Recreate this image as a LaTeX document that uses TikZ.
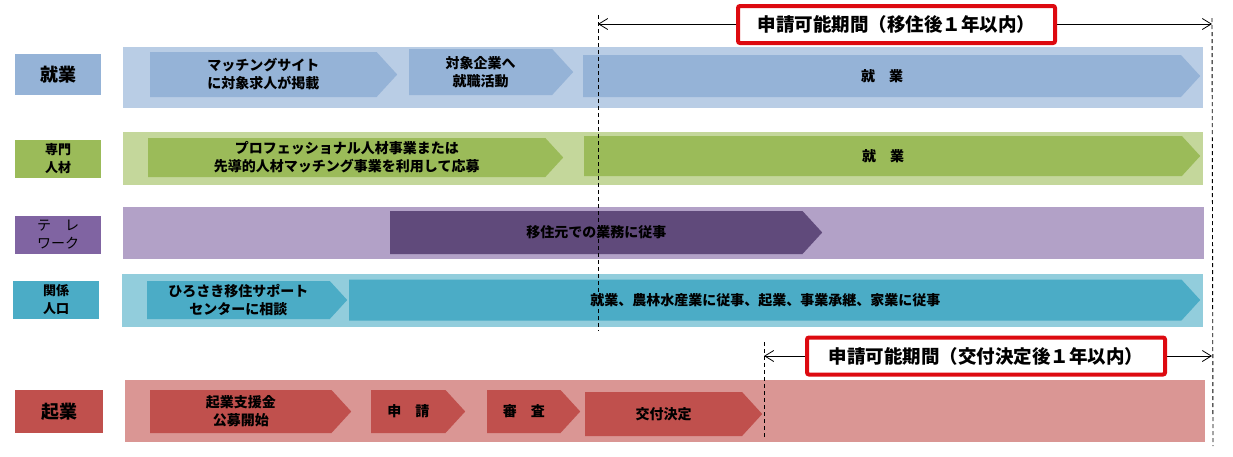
\documentclass[tikz,border=0pt]{standalone}
\usepackage{fontspec}
\setmainfont{Noto Sans CJK JP}
\usepackage{tikz}
\usetikzlibrary{arrows.meta, positioning, shapes.symbols}

\definecolor{jobDark}{HTML}{95B3D7}
\definecolor{jobLight}{HTML}{B9CDE5}
\definecolor{proDark}{HTML}{9BBB59}
\definecolor{proLight}{HTML}{C4D79B}
\definecolor{teleLbl}{HTML}{8064A2}
\definecolor{teleLight}{HTML}{B2A1C7}
\definecolor{teleDark}{HTML}{604A7B}
\definecolor{relDark}{HTML}{4BACC6}
\definecolor{relLight}{HTML}{92CDDC}
\definecolor{bizDark}{HTML}{C0504D}
\definecolor{bizLight}{HTML}{DA9694}
\definecolor{boxRed}{HTML}{DD0A10}

\begin{document}
\begin{tikzpicture}[
    x=1pt, y=-1pt,
    band/.style={rectangle, inner sep=0pt, anchor=north west},
    lbl/.style={rectangle, inner sep=0pt, align=center, font=\bfseries\fontsize{13}{18}\selectfont},
    biglbl/.style={lbl, font=\bfseries\fontsize{18}{20}\selectfont},
    chev/.style={signal, signal to=east, signal pointer angle=95, inner sep=0pt,
                 anchor=west, align=center, font=\bfseries\fontsize{14}{18}\selectfont},
    dashline/.style={line width=0.9pt, dash pattern=on 4pt off 3pt},
    period/.style={line width=0.8pt, {Straight Barb[length=9pt, width=11pt]}-{Straight Barb[length=9pt, width=11pt]}},
    redbox/.style={draw=boxRed, line width=4pt, fill=white, rounded corners=2pt,
                   inner sep=0pt, font=\bfseries\fontsize{18.5}{20}\selectfont},
]
    \useasboundingbox (0,0) rectangle (1233,456);

    % Bands
    \node[band, fill=jobLight, minimum width=1080pt, minimum height=61pt] (jobBand) at (123,47) {};
    \node[band, fill=proLight, minimum width=1080pt, minimum height=53pt] (proBand) at (123,132) {};
    \node[band, fill=teleLight, minimum width=1081pt, minimum height=52pt] (teleBand) at (123,207) {};
    \node[band, fill=relLight, minimum width=1081pt, minimum height=53pt] (relBand) at (122,274) {};
    \node[band, fill=bizLight, minimum width=1080pt, minimum height=62pt] (bizBand) at (125,380) {};

    % Row labels
    \node[biglbl, fill=jobDark, minimum width=86pt, minimum height=41pt] (jobLbl) at (58,74.5) {就業};
    \node[lbl, fill=proDark, minimum width=86pt, minimum height=38pt] (proLbl) at (58,159) {専門\\人材};
    \node[lbl, fill=teleLbl, minimum width=86pt, minimum height=38pt, font=\fontsize{14}{18}\selectfont] (teleLbl) at (58,235) {テ　レ\\ワーク};
    \node[lbl, fill=relDark, minimum width=86pt, minimum height=38pt] (relLbl) at (56,300) {関係\\人口};
    \node[biglbl, fill=bizDark, minimum width=88pt, minimum height=43pt] (bizLbl) at (59,411.5) {起業};

    % Steps
    \node[chev, fill=jobDark, minimum width=247pt, minimum height=45pt] (jobSite) at (150,74.5) {マッチングサイト\\に対象求人が掲載};
    \node[chev, fill=jobDark, minimum width=164pt, minimum height=46pt] (jobHunt) at (409,72) {対象企業へ\\就職活動};
    \node[chev, fill=jobDark, minimum width=617pt, minimum height=42pt] (jobWork) at (583,76) {就　業};

    \node[chev, fill=proDark, minimum width=415pt, minimum height=39pt] (proApply) at (148,157.5) {プロフェッショナル人材事業または\\先導的人材マッチング事業を利用して応募};
    \node[chev, fill=proDark, minimum width=616pt, minimum height=40pt] (proWork) at (584,156) {就　業};

    \node[chev, fill=teleDark, minimum width=432pt, minimum height=43pt] (teleWork) at (390,232.5) {移住元での業務に従事};

    \node[chev, fill=relDark, minimum width=200pt, minimum height=38pt] (relTalk) at (147,300) {ひろさき移住サポート\\センターに相談};
    \node[chev, fill=relDark, minimum width=851pt, minimum height=41pt] (relWork) at (349,300) {就業、農林水産業に従事、起業、事業承継、家業に従事};

    \node[chev, fill=bizDark, minimum width=201pt, minimum height=43pt] (bizCall) at (150,411.5) {起業支援金\\公募開始};
    \node[chev, fill=bizDark, minimum width=94pt, minimum height=43pt] (bizApply) at (371,411.5) {申　請};
    \node[chev, fill=bizDark, minimum width=93pt, minimum height=43pt] (bizCheck) at (487,411.5) {審　査};
    \node[chev, fill=bizDark, minimum width=177pt, minimum height=44pt] (bizGrant) at (585,414) {交付決定};

    % Period marks
    \coordinate (moveTop) at (598,15);
    \coordinate (moveBot) at (598,331);
    \coordinate (endTop) at (1212,18);
    \coordinate (endBot) at (1213,446);
    \coordinate (grantTop) at (764,342);
    \coordinate (grantBot) at (764,437);
    \draw[dashline] (moveTop) -- (moveBot);
    \draw[dashline] (endTop) -- (endBot);
    \draw[dashline] (grantTop) -- (grantBot);

    \coordinate (moveL) at (598,24);
    \coordinate (moveR) at (1212,24);
    \coordinate (grantL) at (764,356);
    \coordinate (grantR) at (1212,356);
    \draw[period] (moveL) -- (moveR);
    \draw[period] (grantL) -- (grantR);

    \node[redbox, minimum width=317pt, minimum height=37pt] (moveBox) at (896.5,24.5) {申請可能期間（移住後１年以内）};
    \node[redbox, minimum width=358pt, minimum height=37pt] (grantBox) at (986,356) {申請可能期間（交付決定後１年以内）};
\end{tikzpicture}
\end{document}
